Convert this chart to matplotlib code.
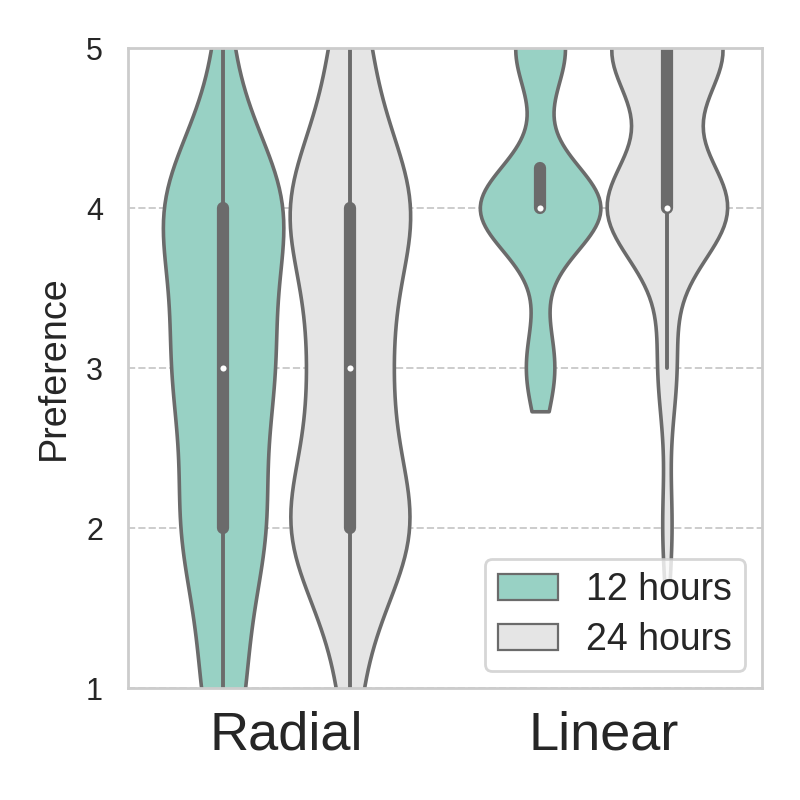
import numpy as np
import pandas as pd
import matplotlib
matplotlib.use("Agg")
import matplotlib.pyplot as plt
import seaborn as sns

# ---- data: number of responses per preference rating ----
ratings = [1, 2, 3, 4, 5]
layouts = ["Radial", "Linear"]
durations = ["12 hours", "24 hours"]
radial_12h_counts = [3, 6, 7, 9, 1]
radial_24h_counts = [2, 14, 8, 14, 4]
linear_12h_counts = [0, 0, 4, 17, 7]
linear_24h_counts = [0, 1, 2, 13, 12]

counts = {
    ("Radial", "12 hours"): radial_12h_counts,
    ("Radial", "24 hours"): radial_24h_counts,
    ("Linear", "12 hours"): linear_12h_counts,
    ("Linear", "24 hours"): linear_24h_counts,
}
rows = []
for (lay, dur), c in counts.items():
    for r, n in zip(ratings, c):
        rows += [(lay, dur, r)] * n
df = pd.DataFrame(rows, columns=["Layout", "Duration", "Preference"])

sns.set_theme(style="whitegrid")
plt.rcParams["font.family"] = ["Liberation Sans", "DejaVu Sans"]

fig = plt.figure(figsize=(4, 4), dpi=200)
ax = fig.add_axes([0.16, 0.14, 0.7925, 0.80])

colors = ["#98d1c4", "#e5e5e5"]
line_c = "#6b6b6b"
sns.violinplot(data=df, x="Layout", y="Preference", hue="Duration",
               order=layouts, hue_order=durations, palette=colors,
               saturation=1, cut=1, bw_method=0.43, density_norm="width",
               inner="box", linewidth=1.3, linecolor=line_c, width=0.8,
               gap=0.05,
               inner_kws=dict(box_width=4.4, whis_width=1.4, marker="o",
                              markersize=2.2, markeredgewidth=0,
                              solid_capstyle="round"),
               ax=ax)

ax.set_ylim(1, 5)
ax.set_yticks([1, 2, 3, 4, 5])
ax.set_xlim(-0.5, 1.5)
ax.set_xlabel("")
ax.set_ylabel("Preference", fontsize=13.6, labelpad=5)
ax.grid(axis="x", visible=False)
ax.grid(axis="y", linestyle="--", color="#cccccc", linewidth=0.7)
ax.set_axisbelow(True)
ax.tick_params(axis="y", labelsize=11, length=0, pad=9)
ax.tick_params(axis="x", labelsize=19.5, length=0, pad=8)
for s in ax.spines.values():
    s.set_color("#cccccc")
    s.set_linewidth(1.0)

leg = ax.legend(loc="lower right", fontsize=13.5, handlelength=1.6,
                labelspacing=0.38, borderpad=0.35, handletextpad=0.75,
                borderaxespad=0.45,
                frameon=True, framealpha=0.8, edgecolor="#cccccc")
for h in leg.legend_handles:
    h.set_edgecolor(line_c)
    h.set_linewidth(0.8)

fig.savefig("out.png", dpi=200)
